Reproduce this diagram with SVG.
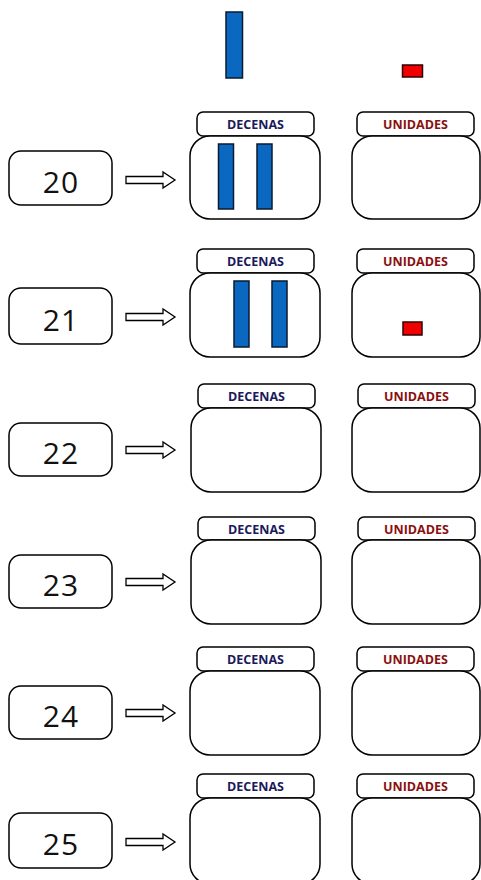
<svg xmlns="http://www.w3.org/2000/svg" width="481" height="880" viewBox="0 0 481 880">
<style>
.box{fill:#fff;stroke:#000;stroke-width:1.5}
.lid{fill:#fff;stroke:#000;stroke-width:1.5}
.num{font-family:"Open Sans","Liberation Sans",sans-serif;font-size:30px;font-weight:500;letter-spacing:1px;fill:#111;text-anchor:middle}
.dec{font-family:"Open Sans","Liberation Sans",sans-serif;font-weight:bold;font-size:12.5px;fill:#1a1a5c;text-anchor:middle}
.uni{font-family:"Open Sans","Liberation Sans",sans-serif;font-weight:bold;font-size:12.5px;fill:#8a1010;text-anchor:middle}
.ten{fill:#0b68c0;stroke:#0a1a30;stroke-width:1.5}
.one{fill:#f00000;stroke:#300000;stroke-width:1.5}
.arr{fill:#fff;stroke:#000;stroke-width:1.3}
</style>
<defs>
<path id="arrow" class="arr" d="M0,-3.5 H37 V-8 L49,0 L37,8 V3.5 H0 Z"/>
</defs>

<g id="legend">
<rect class="ten" x="226" y="12" width="16.5" height="66"/>
<rect class="one" x="402.5" y="65" width="20" height="12"/>
</g>

<g id="connectors">
<use href="#arrow" x="126" y="180"/>
<use href="#arrow" x="126" y="317"/>
<use href="#arrow" x="126" y="450"/>
<use href="#arrow" x="126" y="582"/>
<use href="#arrow" x="126" y="713"/>
<use href="#arrow" x="126" y="842"/>
</g>

<g id="row20">
<rect class="box" x="9" y="151" width="103" height="54" rx="12"/>
<text class="num" x="61" y="193">20</text>
<rect class="lid" x="197" y="112" width="117" height="24" rx="6"/>
<text class="dec" x="255.5" y="129">DECENAS</text>
<rect class="box" x="190" y="136" width="130" height="83" rx="20"/>
<rect class="ten" x="218.5" y="144" width="15" height="65"/>
<rect class="ten" x="257" y="144" width="15" height="65"/>
<rect class="lid" x="357" y="112" width="117" height="24" rx="6"/>
<text class="uni" x="415.5" y="129">UNIDADES</text>
<rect class="box" x="352" y="136" width="128" height="83" rx="20"/>
</g>

<g id="row21">
<rect class="box" x="9" y="288" width="103" height="56" rx="12"/>
<text class="num" x="61" y="331">21</text>
<rect class="lid" x="197" y="249" width="117" height="24" rx="6"/>
<text class="dec" x="255.5" y="266">DECENAS</text>
<rect class="box" x="190" y="273" width="130" height="84" rx="20"/>
<rect class="ten" x="234" y="281" width="15" height="66"/>
<rect class="ten" x="272" y="281" width="15" height="66"/>
<rect class="lid" x="357" y="249" width="117" height="24" rx="6"/>
<text class="uni" x="415.5" y="266">UNIDADES</text>
<rect class="box" x="352" y="273" width="128" height="84" rx="20"/>
<rect class="one" x="403" y="322" width="19" height="13"/>
</g>

<g id="row22">
<rect class="box" x="9" y="423" width="103" height="53" rx="12"/>
<text class="num" x="61" y="464">22</text>
<rect class="lid" x="198" y="384" width="117" height="24" rx="6"/>
<text class="dec" x="256.5" y="401">DECENAS</text>
<rect class="box" x="191" y="408" width="130" height="84" rx="20"/>
<rect class="lid" x="358" y="384" width="117" height="24" rx="6"/>
<text class="uni" x="416.5" y="401">UNIDADES</text>
<rect class="box" x="352" y="408" width="128" height="84" rx="20"/>
</g>

<g id="row23">
<rect class="box" x="9" y="555" width="103" height="53" rx="12"/>
<text class="num" x="61" y="596">23</text>
<rect class="lid" x="198" y="517" width="117" height="23" rx="6"/>
<text class="dec" x="256.5" y="533.5">DECENAS</text>
<rect class="box" x="191" y="540" width="130" height="84" rx="20"/>
<rect class="lid" x="358" y="517" width="117" height="23" rx="6"/>
<text class="uni" x="416.5" y="533.5">UNIDADES</text>
<rect class="box" x="352" y="540" width="128" height="84" rx="20"/>
</g>

<g id="row24">
<rect class="box" x="9" y="686" width="103" height="53" rx="12"/>
<text class="num" x="61" y="727">24</text>
<rect class="lid" x="197" y="647" width="117" height="24" rx="6"/>
<text class="dec" x="255.5" y="664">DECENAS</text>
<rect class="box" x="190" y="671" width="130" height="84" rx="20"/>
<rect class="lid" x="357" y="647" width="117" height="24" rx="6"/>
<text class="uni" x="415.5" y="664">UNIDADES</text>
<rect class="box" x="352" y="671" width="128" height="84" rx="20"/>
</g>

<g id="row25">
<rect class="box" x="9" y="813" width="103" height="55" rx="12"/>
<text class="num" x="61" y="855">25</text>
<rect class="lid" x="197" y="774" width="117" height="24" rx="6"/>
<text class="dec" x="255.5" y="791">DECENAS</text>
<rect class="box" x="190" y="798" width="130" height="86" rx="20"/>
<rect class="lid" x="357" y="774" width="117" height="24" rx="6"/>
<text class="uni" x="415.5" y="791">UNIDADES</text>
<rect class="box" x="352" y="798" width="128" height="86" rx="20"/>
</g>
</svg>
